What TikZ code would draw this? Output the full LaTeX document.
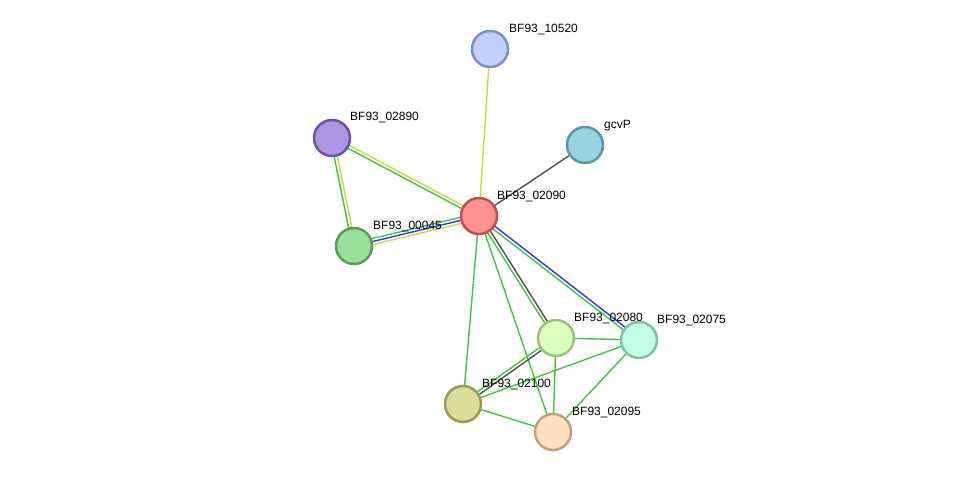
\documentclass[tikz,border=0pt]{standalone}
\usepackage{fontspec}
\setmainfont{Liberation Sans}
\usetikzlibrary{calc}
\pgfdeclarelayer{background}
\pgfsetlayers{background,main}
\definecolor{egreen}{RGB}{60,200,60}
\definecolor{eyellow}{RGB}{200,220,60}
\definecolor{eblue}{RGB}{50,50,240}
\definecolor{egray}{RGB}{80,80,80}
\tikzset{
  prot/.style={circle, minimum size=36pt, inner sep=0pt, line width=2.5pt},
  lbl/.style={anchor=west, font=\fontsize{12pt}{14pt}\selectfont, inner sep=0pt, text=black},
  edge/.style={line width=1.4pt},
}
\newcommand{\pedge}[4]{% from, to, offset, colour
  \draw[edge, #4] ($(#1)!#3!90:(#2)$) -- ($(#2)!#3!-90:(#1)$);}
\begin{document}
\begin{tikzpicture}[x=1pt,y=-1pt]
\useasboundingbox (0,0) rectangle (975,478);
\node[prot, fill={rgb,255:red,194;green,208;blue,251}, draw={rgb,255:red,125;green,143;blue,200}] (n10520) at (490,49) {};
\node[prot, fill={rgb,255:red,170;green,150;blue,225}, draw={rgb,255:red,105;green,85;blue,160}] (n02890) at (332,138) {};
\node[prot, fill={rgb,255:red,152;green,211;blue,224}, draw={rgb,255:red,90;green,150;blue,168}] (ngcvP) at (585,145) {};
\node[prot, fill={rgb,255:red,255;green,145;blue,145}, draw={rgb,255:red,192;green,80;blue,80}] (n02090) at (479,216) {};
\node[prot, fill={rgb,255:red,153;green,224;blue,155}, draw={rgb,255:red,90;green,155;blue,90}] (n00045) at (354,246) {};
\node[prot, fill={rgb,255:red,219;green,255;blue,191}, draw={rgb,255:red,157;green,191;blue,128}] (n02080) at (556,338) {};
\node[prot, fill={rgb,255:red,194;green,255;blue,230}, draw={rgb,255:red,128;green,192;blue,168}] (n02075) at (639,340) {};
\node[prot, fill={rgb,255:red,216;green,222;blue,151}, draw={rgb,255:red,153;green,154;blue,85}] (n02100) at (463,404) {};
\node[prot, fill={rgb,255:red,255;green,224;blue,192}, draw={rgb,255:red,192;green,160;blue,128}] (n02095) at (553,432) {};

\node[lbl] (l10520) at (509,30) {BF93\_10520};
\node[lbl] (l02890) at (350,118) {BF93\_02890};
\node[lbl] (lgcvP) at (604,126) {gcvP};
\node[lbl] (l02090) at (497,197) {BF93\_02090};
\node[lbl] (l00045) at (373,227) {BF93\_00045};
\node[lbl] (l02080) at (574,319) {BF93\_02080};
\node[lbl] (l02075) at (657,321) {BF93\_02075};
\node[lbl] (l02100) at (482,385) {BF93\_02100};
\node[lbl] (l02095) at (572,413) {BF93\_02095};

\begin{pgfonlayer}{background}
\draw[edge, eyellow] (n02090) -- (n10520);
\draw[edge, egray] (n02090) -- (ngcvP);
\pedge{n02890}{n02090}{1.6pt}{eyellow}
\pedge{n02890}{n02090}{-1.6pt}{egreen}
\pedge{n02890}{n00045}{-1.6pt}{egreen}
\pedge{n02890}{n00045}{1.6pt}{eyellow}
\pedge{n00045}{n02090}{3pt}{egreen}
\pedge{n00045}{n02090}{0pt}{eblue}
\pedge{n00045}{n02090}{-3pt}{eyellow}
\pedge{n02090}{n02075}{1.6pt}{eblue}
\pedge{n02090}{n02075}{-1.6pt}{egreen}
\pedge{n02090}{n02080}{1.6pt}{egray}
\pedge{n02090}{n02080}{-1.6pt}{egreen}
\draw[edge, egreen] (n02090) -- (n02100);
\draw[edge, egreen] (n02090) -- (n02095);
\draw[edge, egreen] (n02080) -- (n02075);
\pedge{n02080}{n02100}{1.6pt}{egray}
\pedge{n02080}{n02100}{-1.6pt}{egreen}
\draw[edge, egreen] (n02080) -- (n02095);
\draw[edge, egreen] (n02075) -- (n02100);
\draw[edge, egreen] (n02075) -- (n02095);
\draw[edge, egreen] (n02100) -- (n02095);
\end{pgfonlayer}
\end{tikzpicture}
\end{document}
